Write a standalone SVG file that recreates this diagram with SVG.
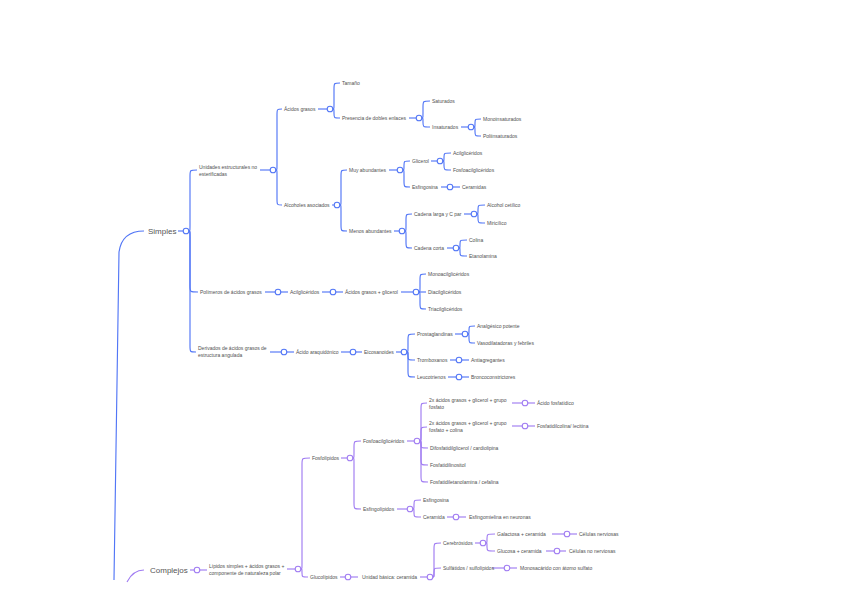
<svg xmlns="http://www.w3.org/2000/svg" width="848" height="600" viewBox="0 0 848 600">
<style>
.t{font-family:"Liberation Sans",Arial,sans-serif;font-size:5px;fill:#505050;dominant-baseline:central}
.big{font-family:"Liberation Sans",Arial,sans-serif;font-size:8px;fill:#555;dominant-baseline:central}
.b{fill:none;stroke:#5276f6;stroke-width:1.15}
.p{fill:none;stroke:#a07cf2;stroke-width:1.15}
.cb{fill:#fff;stroke:#5276f6;stroke-width:1.1}
.cp{fill:#fff;stroke:#a07cf2;stroke-width:1.1}
</style>
<rect width="848" height="600" fill="#fff"/>
<g id="connectors">
<path class="b" stroke-width="1.4" d="M144 231Q122 231 119 252L114 580"/>
<path class="p" stroke-width="1.4" d="M127 582Q133 570 144 570"/>
<path class="b" d="M178 231L183 231"/>
<path class="b" d="M189 231C190 231 190 231 190 225L190 176C190 170 190 170 197 170"/>
<path class="b" d="M189 231C190 231 190 231 190 237L190 286C190 292 190 292 198 292"/>
<path class="b" d="M189 231C190 231 190 231 190 237L190 346C190 352 190 352 196 352"/>
<path class="b" d="M260 170L270 170"/>
<path class="b" d="M276 170C277 170 277 170 277 164L277 115C277 109 277 109 282 109"/>
<path class="b" d="M276 170C277 170 277 170 277 176L277 199C277 205 277 205 282 205"/>
<path class="b" d="M318 109L327 109"/>
<path class="b" d="M333 109C334 109 334 109 334 103L334 89C334 83 334 83 340 83"/>
<path class="b" d="M333 109C334 109 334 109 334 113.5C334 118 334 118 340 118"/>
<path class="b" d="M409 118L416 118"/>
<path class="b" d="M422 118C423 118 423 118 423 112L423 107C423 101 423 101 430 101"/>
<path class="b" d="M422 118C423 118 423 118 423 122.5C423 127 423 127 430 127"/>
<path class="b" d="M461 127L468 127"/>
<path class="b" d="M474 127C475 127 475 127 475 123C475 119 475 119 481 119"/>
<path class="b" d="M474 127C475 127 475 127 475 131.5C475 136 475 136 481 136"/>
<path class="b" d="M332 205L334 205"/>
<path class="b" d="M340 205C341 205 341 205 341 199L341 176C341 170 341 170 347 170"/>
<path class="b" d="M340 205C341 205 341 205 341 211L341 225C341 231 341 231 347 231"/>
<path class="b" d="M389 170L397 170"/>
<path class="b" d="M403 170C404 170 404 170 404 165.5C404 161 404 161 410 161"/>
<path class="b" d="M403 170C404 170 404 170 404 176L404 181C404 187 404 187 410 187"/>
<path class="b" d="M431 161L437 161"/>
<path class="b" d="M443 161C444 161 444 161 444 157C444 153 444 153 451 153"/>
<path class="b" d="M443 161C444 161 444 161 444 165.5C444 170 444 170 451 170"/>
<path class="b" d="M441 187L460 187"/>
<path class="b" d="M394 231L399 231"/>
<path class="b" d="M405 231C406 231 406 231 406 225L406 220C406 214 406 214 412 214"/>
<path class="b" d="M405 231C406 231 406 231 406 237L406 242C406 248 406 248 412 248"/>
<path class="b" d="M464 214L471 214"/>
<path class="b" d="M477 214C478 214 478 214 478 209.5C478 205 478 205 485 205"/>
<path class="b" d="M477 214C478 214 478 214 478 218.5C478 223 478 223 485 223"/>
<path class="b" d="M447 248L453 248"/>
<path class="b" d="M459 248C460 248 460 248 460 244C460 240 460 240 467 240"/>
<path class="b" d="M459 248C460 248 460 248 460 252C460 256 460 256 467 256"/>
<path class="b" d="M265 292L288 292"/>
<path class="b" d="M322 292L343 292"/>
<path class="b" d="M401 292L413 292"/>
<path class="b" d="M419 292C420 292 420 292 420 286L420 280C420 274 420 274 426 274"/>
<path class="b" d="M419 292L426 292"/>
<path class="b" d="M419 292C420 292 420 292 420 298L420 303C420 309 420 309 426 309"/>
<path class="b" d="M270 352L294 352"/>
<path class="b" d="M341 352L362 352"/>
<path class="b" d="M396 352L401 352"/>
<path class="b" d="M407 352C408 352 408 352 408 346L408 340C408 334 408 334 415 334"/>
<path class="b" d="M407 352C408 352 408 352 408 356C408 360 408 360 415 360"/>
<path class="b" d="M407 352C408 352 408 352 408 358L408 371C408 377 408 377 415 377"/>
<path class="b" d="M455 334L462 334"/>
<path class="b" d="M468 334C469 334 469 334 469 330C469 326 469 326 475 326"/>
<path class="b" d="M468 334C469 334 469 334 469 338.5C469 343 469 343 475 343"/>
<path class="b" d="M450 360L469 360"/>
<path class="b" d="M448 377L469 377"/>
<path class="p" d="M190 570L207 570"/>
<path class="p" d="M287 569L295 569"/>
<path class="p" d="M301 569C302 569 302 569 302 563L302 464C302 458 302 458 310 458"/>
<path class="p" d="M301 569C302 569 302 569 302 573C302 577 302 577 308 577"/>
<path class="p" d="M341 458L347 458"/>
<path class="p" d="M353 458C354 458 354 458 354 452L354 447C354 441 354 441 361 441"/>
<path class="p" d="M353 458C354 458 354 458 354 464L354 503C354 509 354 509 361 509"/>
<path class="p" d="M407 441L414 441"/>
<path class="p" d="M420 441C421 441 421 441 421 435L421 409C421 403 421 403 427 403"/>
<path class="p" d="M420 441C421 441 421 441 421 435L421 433C421 427 421 427 427 427"/>
<path class="p" d="M420 441C421 441 421 441 421 444.5C421 448 421 448 428 448"/>
<path class="p" d="M420 441C421 441 421 441 421 447L421 459C421 465 421 465 428 465"/>
<path class="p" d="M420 441C421 441 421 441 421 447L421 476C421 482 421 482 428 482"/>
<path class="p" d="M512 403L535 403"/>
<path class="p" d="M512 426L535 426"/>
<path class="p" d="M397 509L407 509"/>
<path class="p" d="M413 509C414 509 414 509 414 504.5C414 500 414 500 421 500"/>
<path class="p" d="M413 509C414 509 414 509 414 513C414 517 414 517 421 517"/>
<path class="p" d="M447 517L466 517"/>
<path class="p" d="M340 577L358 577"/>
<path class="p" d="M420 577L427 577"/>
<path class="p" d="M433 577C434 577 434 577 434 571L434 549C434 543 434 543 441 543"/>
<path class="p" d="M433 577C434 577 434 577 434 572.5C434 568 434 568 441 568"/>
<path class="p" d="M475 543L480 543"/>
<path class="p" d="M486 543C487 543 487 543 487 538.5C487 534 487 534 495 534"/>
<path class="p" d="M486 543C487 543 487 543 487 547C487 551 487 551 495 551"/>
<path class="p" d="M552 534L577 534"/>
<path class="p" d="M546 551L566 551"/>
<path class="p" d="M492 568L517 568"/>
</g>
<g id="simples"><text class="big" x="148" y="231">Simples</text><circle class="cb" cx="186" cy="231" r="2.8"/></g>
<g id="unidades"><text class="t" x="199" y="167">Unidades estructurales no</text><text class="t" x="199" y="174">esterificadas</text><circle class="cb" cx="273" cy="170" r="2.8"/></g>
<g id="acidos-grasos"><text class="t" x="284" y="109">Ácidos grasos</text><circle class="cb" cx="330" cy="109" r="2.8"/></g>
<g id="tamano"><text class="t" x="342" y="83">Tamaño</text></g>
<g id="presencia"><text class="t" x="342" y="118">Presencia de dobles enlaces</text><circle class="cb" cx="419" cy="118" r="2.8"/></g>
<g id="saturados"><text class="t" x="432" y="101">Saturados</text></g>
<g id="insaturados"><text class="t" x="432" y="127">Insaturados</text><circle class="cb" cx="471" cy="127" r="2.8"/></g>
<g id="mono"><text class="t" x="483" y="119">Monoinsaturados</text></g>
<g id="poli"><text class="t" x="483" y="136">Poliinsaturados</text></g>
<g id="alcoholes"><text class="t" x="284" y="205">Alcoholes asociados</text><circle class="cb" cx="337" cy="205" r="2.8"/></g>
<g id="muy"><text class="t" x="349" y="170">Muy abundantes</text><circle class="cb" cx="400" cy="170" r="2.8"/></g>
<g id="glicerol"><text class="t" x="412" y="161">Glicerol</text><circle class="cb" cx="440" cy="161" r="2.8"/></g>
<g id="acilgli1"><text class="t" x="453" y="153">Acilglicéridos</text></g>
<g id="fosfoacil1"><text class="t" x="453" y="170">Fosfoacilglicéridos</text></g>
<g id="esfingosina1"><text class="t" x="412" y="187">Esfingosina</text><circle class="cb" cx="450" cy="187" r="2.8"/></g>
<g id="ceramidas"><text class="t" x="462" y="187">Ceramidas</text></g>
<g id="menos"><text class="t" x="349" y="231">Menos abundantes</text><circle class="cb" cx="402" cy="231" r="2.8"/></g>
<g id="larga"><text class="t" x="414" y="214">Cadena larga y C par</text><circle class="cb" cx="474" cy="214" r="2.8"/></g>
<g id="cetilico"><text class="t" x="487" y="205">Alcohol cetílico</text></g>
<g id="miricilico"><text class="t" x="487" y="223">Miricílico</text></g>
<g id="corta"><text class="t" x="414" y="248">Cadena corta</text><circle class="cb" cx="456" cy="248" r="2.8"/></g>
<g id="colina"><text class="t" x="469" y="240">Colina</text></g>
<g id="etanolamina"><text class="t" x="469" y="256">Etanolamina</text></g>
<g id="polimeros"><text class="t" x="200" y="292">Polímeros de ácidos grasos</text><circle class="cb" cx="278" cy="292" r="2.8"/></g>
<g id="acilgli2"><text class="t" x="290" y="292">Acilglicéridos</text><circle class="cb" cx="333" cy="292" r="2.8"/></g>
<g id="ag-glicerol"><text class="t" x="345" y="292">Ácidos grasos + glicerol</text><circle class="cb" cx="416" cy="292" r="2.8"/></g>
<g id="monoacil"><text class="t" x="428" y="274">Monoacilglicéridos</text></g>
<g id="diacil"><text class="t" x="428" y="292">Diacilglicéridos</text></g>
<g id="triacil"><text class="t" x="428" y="309">Triacilglicéridos</text></g>
<g id="derivados"><text class="t" x="198" y="348">Derivados de ácidos grasos de</text><text class="t" x="198" y="355">estructura angulada</text><circle class="cb" cx="284" cy="352" r="2.8"/></g>
<g id="araquidonico"><text class="t" x="296" y="352">Ácido araquidónico</text><circle class="cb" cx="353" cy="352" r="2.8"/></g>
<g id="eicosanoides"><text class="t" x="364" y="352">Eicosanoides</text><circle class="cb" cx="404" cy="352" r="2.8"/></g>
<g id="prostaglandinas"><text class="t" x="417" y="334">Prostaglandinas</text><circle class="cb" cx="465" cy="334" r="2.8"/></g>
<g id="analgesico"><text class="t" x="477" y="326">Analgésico potente</text></g>
<g id="vasodilatadoras"><text class="t" x="477" y="343">Vasodilatadoras y febriles</text></g>
<g id="tromboxanos"><text class="t" x="417" y="360">Tromboxanos</text><circle class="cb" cx="459" cy="360" r="2.8"/></g>
<g id="antiagregantes"><text class="t" x="471" y="360">Antiagregantes</text></g>
<g id="leucotrienos"><text class="t" x="417" y="377">Leucotrienos</text><circle class="cb" cx="459" cy="377" r="2.8"/></g>
<g id="bronco"><text class="t" x="471" y="377">Broncoconstrictores</text></g>
<g id="complejos"><text class="big" x="150" y="570">Complejos</text><circle class="cp" cx="197" cy="570" r="2.8"/></g>
<g id="lipidos-simples"><text class="t" x="209" y="566">Lípidos simples + ácidos grasos +</text><text class="t" x="209" y="573">componente de naturaleza polar</text><circle class="cp" cx="298" cy="569" r="2.8"/></g>
<g id="fosfolipidos"><text class="t" x="312" y="458">Fosfolípidos</text><circle class="cp" cx="350" cy="458" r="2.8"/></g>
<g id="fosfoacil2"><text class="t" x="363" y="441">Fosfoacilglicéridos</text><circle class="cp" cx="417" cy="441" r="2.8"/></g>
<g id="c5"><text class="t" x="429" y="400">2x ácidos grasos + glicerol + grupo</text><text class="t" x="429" y="407">fosfato</text><circle class="cp" cx="525" cy="403" r="2.8"/></g>
<g id="fosfatidico"><text class="t" x="537" y="403">Ácido fosfatídico</text></g>
<g id="c7"><text class="t" x="429" y="423">2x ácidos grasos + glicerol + grupo</text><text class="t" x="429" y="430">fosfato + colina</text><circle class="cp" cx="525" cy="426" r="2.8"/></g>
<g id="lecitina"><text class="t" x="537" y="426">Fosfatidilcolina/ lecitina</text></g>
<g id="cardiolipina"><text class="t" x="430" y="448">Difosfatidilglicerol / cardiolipina</text></g>
<g id="inositol"><text class="t" x="430" y="465">Fosfatidilinositol</text></g>
<g id="cefalina"><text class="t" x="430" y="482">Fosfatidiletanolamina / cefalina</text></g>
<g id="esfingolipidos"><text class="t" x="363" y="509">Esfingolípidos</text><circle class="cp" cx="410" cy="509" r="2.8"/></g>
<g id="esfingosina2"><text class="t" x="423" y="500">Esfingosina</text></g>
<g id="ceramida"><text class="t" x="423" y="517">Ceramida</text><circle class="cp" cx="456" cy="517" r="2.8"/></g>
<g id="esfingomielina"><text class="t" x="469" y="517">Esfingomielina en neuronas</text></g>
<g id="glucolipidos"><text class="t" x="310" y="577">Glucolípidos</text><circle class="cp" cx="348" cy="577" r="2.8"/></g>
<g id="unidad-basica"><text class="t" x="362" y="577">Unidad básica: ceramida</text><circle class="cp" cx="430" cy="577" r="2.8"/></g>
<g id="cerebrosidos"><text class="t" x="443" y="543">Cerebrósidos</text><circle class="cp" cx="483" cy="543" r="2.8"/></g>
<g id="galactosa"><text class="t" x="497" y="534">Galactosa + ceramida</text><circle class="cp" cx="567" cy="534" r="2.8"/></g>
<g id="nerviosas"><text class="t" x="579" y="534">Células nerviosas</text></g>
<g id="glucosa"><text class="t" x="497" y="551">Glucosa + ceramida</text><circle class="cp" cx="557" cy="551" r="2.8"/></g>
<g id="no-nerviosas"><text class="t" x="569" y="551">Células no nerviosas</text></g>
<g id="sulfatidos"><text class="t" x="443" y="568">Sulfátidos / sulfolípidos</text><circle class="cp" cx="507" cy="568" r="2.8"/></g>
<g id="monosacarido"><text class="t" x="520" y="568">Monosacárido con átomo sulfato</text></g>
</svg>
